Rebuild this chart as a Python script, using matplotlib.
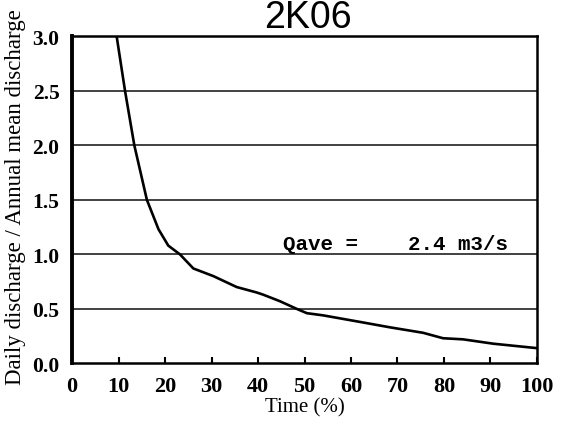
import matplotlib
matplotlib.use("Agg")
import matplotlib.pyplot as plt

# Data
time_pct = [9.6, 11.4, 13.4, 16.1, 18.6, 20.7, 23.2, 26.1, 30.4, 35.4, 39.7, 41.1,
            44.7, 48.3, 50.5, 54.0, 61.9, 68.4, 75.5, 79.8, 84.1, 90.6, 99.8]
ratio = [3.0, 2.5, 2.0, 1.5, 1.23, 1.08, 1.0, 0.87, 0.80, 0.70, 0.65, 0.63,
         0.57, 0.50, 0.46, 0.44, 0.38, 0.33, 0.28, 0.23, 0.22, 0.18, 0.14]
x_ticks = [0, 10, 20, 30, 40, 50, 60, 70, 80, 90, 100]
y_ticks = [0.0, 0.5, 1.0, 1.5, 2.0, 2.5, 3.0]
title = "2K06"
annotation = "Qave =    2.4 m3/s"

fig = plt.figure(figsize=(5.72, 4.27), dpi=100)
ax = fig.add_axes([0.1259, 0.1468, 0.8129, 0.7658])

serif = ["Liberation Serif", "DejaVu Serif"]

for yv in y_ticks[1:-1]:
    ax.axhline(yv, color="#333333", lw=1.3, zorder=1)

ax.plot(time_pct, ratio, color="black", lw=1.9, zorder=3, solid_joinstyle="round")

ax.set_xlim(0, 100)
ax.set_ylim(0, 3.0)
ax.set_xticks(x_ticks)
ax.set_yticks(y_ticks)
ax.set_xticklabels([str(v) for v in x_ticks], fontfamily=serif, fontweight="bold", fontsize=16)
ax.set_yticklabels([f"{v:.1f}" for v in y_ticks], fontfamily=serif, fontweight="bold", fontsize=15.5)
ax.tick_params(axis="x", direction="in", length=4, width=1.5, pad=9)
ax.tick_params(axis="y", length=0, pad=9)

for side in ["top", "right", "bottom"]:
    ax.spines[side].set_linewidth(1.8)
ax.spines["left"].set_linewidth(2.8)

ax.set_xlabel("Time (%)", fontfamily=serif, fontsize=15, labelpad=1)
fig.text(0.027, 0.538, "Daily discharge / Annual mean discharge", rotation=90,
         fontfamily=serif, fontsize=16.5, ha="center", va="center")

ax.text(45.4, 1.10, annotation, fontfamily=["Liberation Mono", "DejaVu Sans Mono"],
        fontsize=15, fontweight="bold", ha="left", va="center", zorder=4)

fig.text(0.538, 1 - 28.5 / 427, title, fontfamily=["Liberation Sans", "DejaVu Sans"],
         fontsize=27, ha="center", va="baseline")

fig.savefig("out.png", dpi=100, facecolor="white")
